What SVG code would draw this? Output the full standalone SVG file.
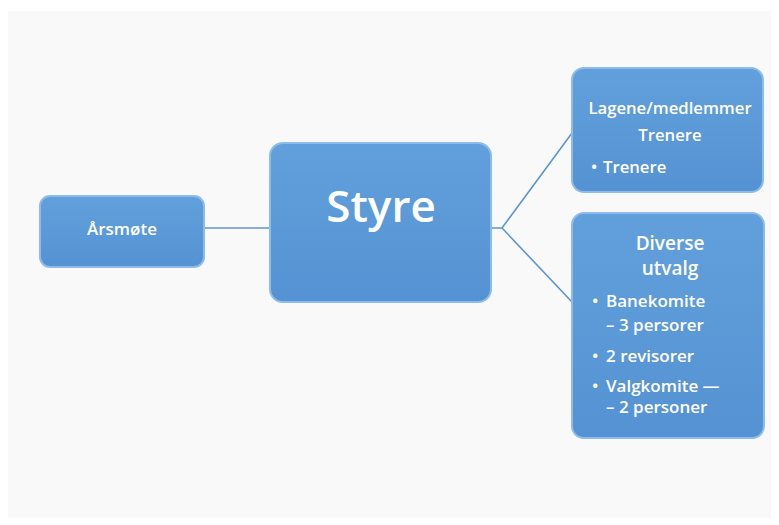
<svg xmlns="http://www.w3.org/2000/svg" width="779" height="525" viewBox="0 0 779 525">
<defs>
<linearGradient id="g" x1="0" y1="0" x2="0" y2="1">
<stop offset="0" stop-color="#62a0dc"/>
<stop offset="1" stop-color="#5592d3"/>
</linearGradient>
<style>
.box{fill:url(#g);stroke:#8dbbea;stroke-width:2}
.t{fill:#ffffff;font-family:"Open Sans","Noto Sans",sans-serif;font-weight:600}
.c{stroke:#5b95d3;stroke-width:1.6;fill:none}
</style>
</defs>
<rect x="0" y="0" width="779" height="525" fill="#ffffff"/>
<rect x="8" y="11" width="763" height="507" fill="#f9f9fa"/>
<g id="connectors">
<line class="c" x1="204" y1="228" x2="270" y2="228"/>
<polyline class="c" points="491,228 502,228 572,133"/>
<polyline class="c" points="502,228 572,302"/>
</g>
<g id="arsmote">
<rect class="box" x="40" y="196" width="164" height="71" rx="10"/>
<text class="t" x="122" y="235" font-size="17" text-anchor="middle">Årsmøte</text>
</g>
<g id="styre">
<rect class="box" x="270" y="143" width="221" height="159" rx="13"/>
<text class="t" x="381" y="222" font-size="44" text-anchor="middle">Styre</text>
</g>
<g id="lagene">
<rect class="box" x="572" y="68" width="191" height="124" rx="12"/>
<text class="t" x="670" y="114" font-size="16.7" text-anchor="middle">Lagene/medlemmer</text>
<text class="t" x="670" y="141" font-size="16.7" text-anchor="middle">Trenere</text>
<text class="t" x="591" y="173" font-size="16.7">•</text>
<text class="t" x="603" y="173" font-size="16.7">Trenere</text>
</g>
<g id="utvalg">
<rect class="box" x="572" y="213" width="192" height="225" rx="12"/>
<text class="t" x="670" y="250" font-size="19" text-anchor="middle">Diverse</text>
<text class="t" x="670" y="275" font-size="19" text-anchor="middle">utvalg</text>
<text class="t" x="592" y="307" font-size="17">•</text>
<text class="t" x="606" y="307" font-size="17">Banekomite</text>
<text class="t" x="606" y="331" font-size="17">– 3 persorer</text>
<text class="t" x="592" y="362" font-size="17">•</text>
<text class="t" x="606" y="362" font-size="17">2 revisorer</text>
<text class="t" x="592" y="392" font-size="17">•</text>
<text class="t" x="606" y="392" font-size="17">Valgkomite —</text>
<text class="t" x="606" y="413" font-size="17">– 2 personer</text>
</g>
</svg>
